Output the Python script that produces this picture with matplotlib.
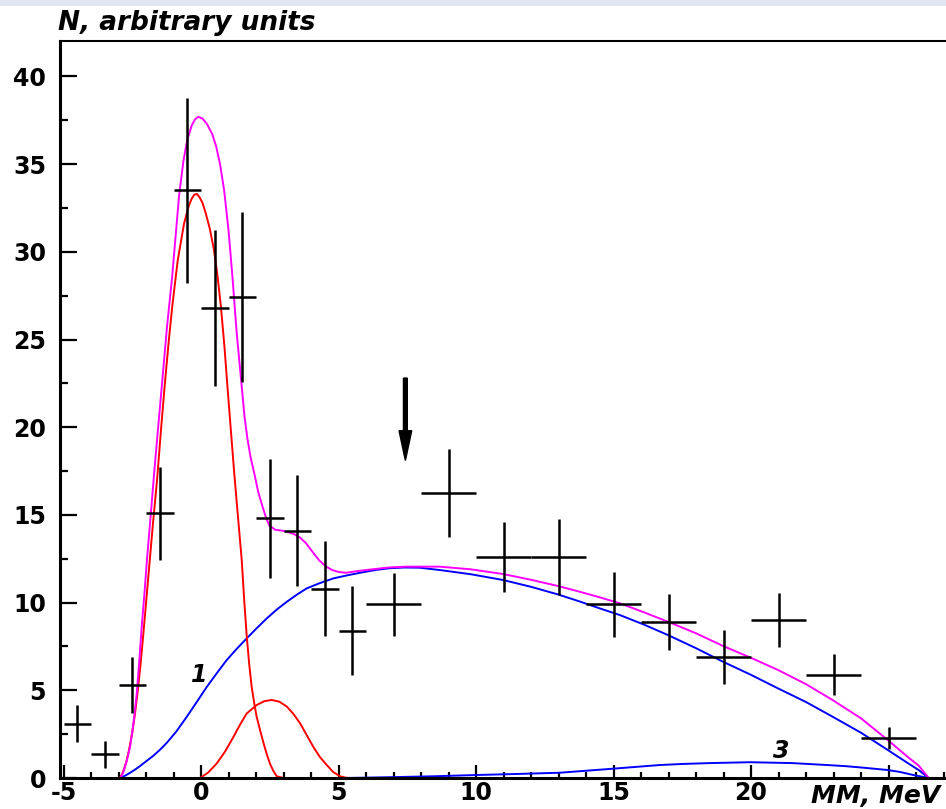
import matplotlib
matplotlib.use("Agg")
import matplotlib.pyplot as plt
from matplotlib.patches import Rectangle
from matplotlib.ticker import MultipleLocator, FixedLocator

# measured points (bin centres, counts, errors)
mm = [-4.5, -3.5, -2.5, -1.5, -0.5, 0.5, 1.5, 2.5, 3.5, 4.5, 5.5,
      7, 9, 11, 13, 15, 17, 19, 21, 23, 25]
mm_err = [0.5] * 11 + [1.0] * 10
counts = [3.1, 1.35, 5.3, 15.1, 33.5, 26.8, 27.4, 14.8, 14.1, 10.8, 8.4,
          9.9, 16.25, 12.6, 12.6, 9.9, 8.9, 6.9, 9.0, 5.9, 2.3]
counts_err = [1.07, 0.76, 1.6, 2.65, 5.25, 4.47, 4.85, 3.37, 3.16, 2.71, 2.52,
              1.79, 2.52, 2.0, 2.17, 1.84, 1.6, 1.52, 1.54, 1.16, 0.62]

# fit curves
total_x = [-2.95, -2.88, -2.8, -2.7, -2.58, -2.46, -2.34, -2.25, -2.16, -2.06,
           -1.97, -1.83, -1.7, -1.56, -1.43, -1.24, -1.05, -0.92, -0.8, -0.64,
           -0.5, -0.34, -0.22, -0.1, 0.05, 0.21, 0.41, 0.55, 0.69, 0.84, 1.0,
           1.14, 1.3, 1.48, 1.58, 1.69, 1.8, 1.93, 2.08, 2.23, 2.35, 2.48,
           2.7, 2.96, 3.2, 3.39, 3.6, 3.81, 4.05, 4.3, 4.55, 4.78, 5.0, 5.27,
           5.7, 6.24, 6.8, 7.46, 8.67, 9.8, 10.98, 12.0, 12.97, 13.7, 14.5,
           15.23, 16.1, 16.98, 18.0, 18.98, 20.0, 20.98, 22.0, 22.96, 24.0,
           24.97, 25.7, 26.1, 26.46]
total_y = [0, 0.15, 0.45, 1.0, 1.8, 3.1, 4.8, 6.6, 8.6, 10.5,
           12.4, 15.0, 17.5, 20.0, 22.3, 25.7, 28.6, 31.0, 33.2, 35.2,
           36.4, 37.2, 37.55, 37.7, 37.6, 37.3, 36.7, 36.0, 35.0, 33.5, 31.2,
           28.6, 25.3, 22.3, 20.6, 19.3, 18.3, 17.4, 16.3, 15.5, 14.9, 14.4,
           14.15, 14.1, 14.0, 13.9, 13.7, 13.4, 12.9, 12.4, 12.05, 11.85, 11.75, 11.7,
           11.8, 11.9, 12.0, 12.05, 12.05, 11.9, 11.63, 11.3, 10.95, 10.65, 10.3,
           9.96, 9.45, 8.91, 8.25, 7.53, 6.85, 6.16, 5.35, 4.45, 3.4,
           2.17, 1.2, 0.7, 0]

peak1_x = [-2.95, -2.85, -2.72, -2.62, -2.5, -2.4, -2.3, -2.2, -2.1, -2.0,
           -1.9, -1.75, -1.6, -1.45, -1.31, -1.17, -1.04, -0.85, -0.62, -0.45,
           -0.35, -0.25, -0.15, -0.05, 0.05, 0.17, 0.32, 0.47, 0.6, 0.72, 0.85,
           0.96, 1.1, 1.2, 1.32, 1.48, 1.57, 1.66, 1.75, 1.84, 1.93, 2.02,
           2.15, 2.27, 2.4, 2.51, 2.63, 2.75, 3.0]
peak1_y = [0, 0.3, 0.9, 1.6, 2.6, 3.7, 5.0, 6.5, 8.2, 10.0,
           11.8, 14.5, 17.0, 20.0, 22.6, 25.0, 27.0, 29.5, 31.6, 32.6,
           33.0, 33.25, 33.3, 33.1, 32.8, 32.2, 31.3, 30.1, 28.6, 26.9, 24.6,
           22.3, 19.5, 17.5, 15.3, 12.4, 10.1, 8.1, 6.5, 5.2, 4.3, 3.5,
           2.7, 2.0, 1.3, 0.8, 0.4, 0.1, 0]

peak2_x = [-0.04, 0.25, 0.57, 0.87, 1.18, 1.42, 1.66, 2.02, 2.3, 2.57,
           2.85, 3.12, 3.36, 3.6, 3.84, 4.08, 4.32, 4.57, 4.8, 5.05, 5.25, 5.4]
peak2_y = [0, 0.3, 0.83, 1.5, 2.35, 3.05, 3.68, 4.16, 4.38, 4.45,
           4.35, 4.07, 3.65, 3.12, 2.45, 1.78, 1.2, 0.74, 0.35, 0.1, 0.02, 0]

bg1_x = [-2.95, -2.8, -2.6, -2.4, -2.22, -2.0, -1.75, -1.5, -1.25, -0.9,
         -0.52, -0.15, 0.21, 0.57, 0.93, 1.3, 1.66, 2.03, 2.39, 2.75, 3.12,
         3.48, 3.84, 4.3, 4.81, 5.3, 5.78, 6.3, 6.85, 7.4, 7.94, 8.67, 9.8,
         10.98, 12.0, 12.97, 13.7, 14.5, 15.23, 16.1, 16.98, 18.0, 18.98,
         20.0, 20.98, 22.0, 22.96, 24.0, 24.97, 25.7, 26.1, 26.46]
bg1_y = [0, 0.1, 0.28, 0.48, 0.68, 0.95, 1.25, 1.6, 2.0, 2.65,
         3.49, 4.35, 5.2, 5.97, 6.72, 7.37, 7.96, 8.55, 9.1, 9.6, 10.05,
         10.45, 10.81, 11.1, 11.38, 11.55, 11.7, 11.85, 11.96, 12.0, 11.99, 11.86, 11.62,
         11.29, 10.9, 10.47, 10.1, 9.67, 9.29, 8.75, 8.15, 7.4, 6.63,
         5.88, 5.11, 4.33, 3.5, 2.58, 1.6, 0.85, 0.45, 0]

bg3_x = [5.2, 6, 7, 8.5, 10, 11.5, 13.04, 14.98, 16.68, 17.5, 18.5, 19.96,
         21.5, 22.76, 23.4, 24.0, 24.94, 25.4, 25.9, 26.2, 26.46]
bg3_y = [0, 0.02, 0.05, 0.1, 0.17, 0.23, 0.3, 0.53, 0.74, 0.8, 0.85, 0.9,
         0.85, 0.74, 0.68, 0.6, 0.46, 0.35, 0.17, 0.08, 0]

x_ticks = [-5, 0, 5, 10, 15, 20, 25]
x_labels = ['-5', '0', '5', '10', '15', '20', '']
y_ticks = [0, 5, 10, 15, 20, 25, 30, 35, 40]

fig = plt.figure(figsize=(9.46, 8.09), dpi=100)
fig.patches.append(Rectangle((0, 1 - 6 / 809), 1, 6 / 809, transform=fig.transFigure,
                             facecolor='#dfe5f1', edgecolor='none'))

ax = fig.add_axes([60 / 946, 31 / 809, 1 - 60 / 946, 737 / 809])

ax.plot(bg3_x, bg3_y, color='#0000ff', lw=1.4)
ax.plot(bg1_x, bg1_y, color='#0000ff', lw=1.4)
ax.plot(peak2_x, peak2_y, color='#ff0000', lw=1.4)
ax.plot(peak1_x, peak1_y, color='#ff0000', lw=1.4)
ax.plot(total_x, total_y, color='#ff00ff', lw=1.4)

ax.errorbar(mm, counts, xerr=mm_err, yerr=counts_err, fmt='none',
            ecolor='black', elinewidth=1.8, capsize=0)

# arrow marking the position of interest
ax.arrow(7.43, 22.8, 0, -4.7, width=0.14, head_width=0.46, head_length=1.7,
         length_includes_head=True, color='black')

ax.text(-0.05, 5.9, '1', fontsize=17, fontweight='bold', fontstyle='italic',
        ha='center', va='center')
ax.text(21.1, 1.55, '3', fontsize=17, fontweight='bold', fontstyle='italic',
        ha='center', va='center')

ax.set_xlim(-5.13, 27.09)
ax.set_ylim(0, 42.02)

ax.xaxis.set_major_locator(FixedLocator(x_ticks))
ax.set_xticklabels(x_labels)
ax.xaxis.set_minor_locator(MultipleLocator(1))
ax.yaxis.set_major_locator(FixedLocator(y_ticks))
ax.yaxis.set_minor_locator(MultipleLocator(2.5))

ax.tick_params(axis='x', which='major', direction='in', length=9.5, width=1.6,
               pad=2, labelsize=17)
ax.tick_params(axis='x', which='minor', direction='in', length=4.5, width=1.6)
ax.tick_params(axis='y', which='major', direction='in', length=12, width=1.6,
               pad=10, labelsize=17)
ax.tick_params(axis='y', which='minor', direction='in', length=6, width=1.6)
for lab in ax.get_xticklabels() + ax.get_yticklabels():
    lab.set_fontweight('bold')

ax.spines['right'].set_visible(False)
ax.spines['left'].set_linewidth(2.2)
ax.spines['bottom'].set_linewidth(2.2)
ax.spines['top'].set_linewidth(1.5)

fig.text(58 / 946, 1 - 23 / 809, 'N, arbitrary units', fontsize=19,
         fontweight='bold', fontstyle='italic', ha='left', va='center')
fig.text(940 / 946, 1 - 796 / 809, 'MM, MeV', fontsize=18,
         fontweight='bold', fontstyle='italic', ha='right', va='center')

fig.savefig('out.png', dpi=100)
